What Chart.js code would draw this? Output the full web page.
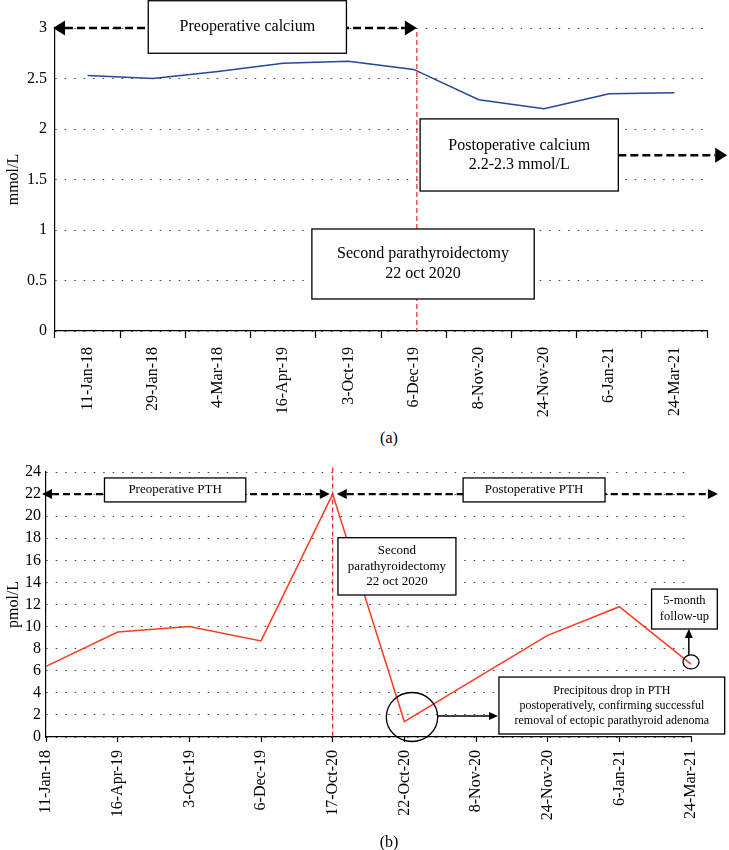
<!DOCTYPE html>
<html>
<head>
<meta charset="utf-8">
<script src="https://cdn.jsdelivr.net/npm/chart.js@4.4.1/dist/chart.umd.min.js"></script>
<style>
  body { margin: 0; background: #fff; width: 729px; height: 850px; position: relative; overflow: hidden; font-family: "Liberation Serif", serif; }
  canvas { position: absolute; left: 0; }
  #calciumChart { top: 0; }
  #pthChart { top: 445px; }
  .panel { position: absolute; left: 0; width: 778px; text-align: center; font-size: 16px; line-height: 18px; color: #000; }
</style>
</head>
<body>
<canvas id="calciumChart" width="729" height="420"></canvas>
<div class="panel" style="top:429px">(a)</div>
<canvas id="pthChart" width="729" height="390"></canvas>
<div class="panel" style="top:833px">(b)</div>
<script>
// serum calcium, mmol/L
const calciumDates = ['11-Jan-18', '29-Jan-18', '4-Mar-18', '16-Apr-19', '3-Oct-19', '6-Dec-19', '8-Nov-20', '24-Nov-20', '6-Jan-21', '24-Mar-21'];
const calciumValues = [2.53, 2.50, 2.57, 2.65, 2.67, 2.59, 2.29, 2.20, 2.35, 2.36];

// PTH, pmol/L
const pthDates = ['11-Jan-18', '16-Apr-19', '3-Oct-19', '6-Dec-19', '17-Oct-20', '22-Oct-20', '8-Nov-20', '24-Nov-20', '6-Jan-21', '24-Mar-21'];
const pthValues = [6.4, 9.5, 10.0, 8.7, 22.0, 1.4, 5.3, 9.2, 11.8, 6.6];

const serif = '"Liberation Serif", "Times New Roman", serif';
Chart.defaults.font.family = serif;
Chart.defaults.color = '#000';

function head(ctx, x, y, ang, len, half) {
    ctx.save();
    ctx.translate(x, y);
    ctx.rotate(ang);
    ctx.beginPath();
    ctx.moveTo(0, 0);
    ctx.lineTo(-len, -half);
    ctx.lineTo(-len, half);
    ctx.closePath();
    ctx.fill();
    ctx.restore();
}

// boxes, arrows and markers placed in data units so they follow the scales
function notesPlugin(items) {
    return {
        id: 'notes',
        afterDatasetsDraw(chart) {
            const ctx = chart.ctx;
            const px = v => chart.scales.x.getPixelForValue(v);
            const py = v => chart.scales.y.getPixelForValue(v);
            ctx.save();
            items.forEach(it => {
                ctx.setLineDash([]);
                ctx.strokeStyle = '#000';
                ctx.fillStyle = '#000';
                if (it.type === 'vline') {
                    ctx.strokeStyle = it.color;
                    ctx.lineWidth = it.width;
                    ctx.setLineDash(it.dash);
                    ctx.beginPath();
                    ctx.moveTo(px(it.x), py(it.y1));
                    ctx.lineTo(px(it.x), py(it.y2));
                    ctx.stroke();
                } else if (it.type === 'arrow') {
                    const x1 = px(it.x1), y1 = py(it.y1), x2 = px(it.x2), y2 = py(it.y2);
                    const ang = Math.atan2(y2 - y1, x2 - x1);
                    const dx = Math.cos(ang) * it.len, dy = Math.sin(ang) * it.len;
                    const both = it.heads === 'both';
                    ctx.lineWidth = it.width;
                    if (it.dash) ctx.setLineDash(it.dash);
                    ctx.beginPath();
                    ctx.moveTo(both ? x1 + dx : x1, both ? y1 + dy : y1);
                    ctx.lineTo(x2 - dx, y2 - dy);
                    ctx.stroke();
                    ctx.setLineDash([]);
                    head(ctx, x2, y2, ang, it.len, it.half);
                    if (both) head(ctx, x1, y1, ang + Math.PI, it.len, it.half);
                } else if (it.type === 'box') {
                    const x1 = px(it.x1), y1 = py(it.y1), x2 = px(it.x2), y2 = py(it.y2);
                    ctx.fillStyle = '#fff';
                    ctx.fillRect(x1, y1, x2 - x1, y2 - y1);
                    ctx.lineWidth = 1.3;
                    ctx.strokeRect(x1, y1, x2 - x1, y2 - y1);
                    ctx.fillStyle = '#000';
                    ctx.font = it.size + 'px ' + serif;
                    ctx.textAlign = 'center';
                    ctx.textBaseline = 'middle';
                    const cx = (x1 + x2) / 2, cy = (y1 + y2) / 2;
                    const n = it.lines.length;
                    it.lines.forEach((t, i) => {
                        ctx.fillText(t, cx, cy + (i - (n - 1) / 2) * it.gap);
                    });
                } else if (it.type === 'ellipse') {
                    ctx.lineWidth = 1.3;
                    ctx.beginPath();
                    ctx.ellipse(px(it.x), py(it.y), it.rx, it.ry, 0, 0, Math.PI * 2);
                    ctx.stroke();
                }
            });
            ctx.restore();
        }
    };
}

const calciumNotes = [
    { type: 'vline', x: 5.05, y1: 2.96, y2: 0, color: '#e8262a', dash: [5, 3], width: 1.2 },
    { type: 'arrow', x1: -0.53, y1: 3, x2: 5.05, y2: 3, heads: 'both', dash: [8, 4], width: 2.6, len: 12, half: 7.5 },
    { type: 'box', x1: 0.93, y1: 3.27, x2: 3.97, y2: 2.75, lines: ['Preoperative calcium'], size: 16, gap: 19 },
    { type: 'arrow', x1: 8.14, y1: 1.74, x2: 9.81, y2: 1.74, heads: 'end', dash: [8, 4], width: 2.6, len: 12, half: 7.5 },
    { type: 'box', x1: 5.1, y1: 2.1, x2: 8.14, y2: 1.386, lines: ['Postoperative calcium', '2.2-2.3 mmol/L'], size: 16, gap: 19 },
    { type: 'box', x1: 3.44, y1: 1.01, x2: 6.85, y2: 0.317, lines: ['Second parathyroidectomy', '22 oct 2020'], size: 16, gap: 20 }
];

const pthNotes = [
    { type: 'vline', x: 4, y1: 24.4, y2: 0, color: '#e8262a', dash: [5, 3], width: 1.2 },
    { type: 'arrow', x1: -0.056, y1: 22, x2: 3.96, y2: 22, heads: 'both', dash: [7, 4], width: 2.2, len: 10, half: 5 },
    { type: 'box', x1: 0.816, y1: 23.46, x2: 2.788, y2: 21.29, lines: ['Preoperative PTH'], size: 13, gap: 15 },
    { type: 'arrow', x1: 4.057, y1: 22, x2: 9.376, y2: 22, heads: 'both', dash: [7, 4], width: 2.2, len: 10, half: 5 },
    { type: 'box', x1: 5.82, y1: 23.46, x2: 7.8, y2: 21.29, lines: ['Postoperative PTH'], size: 13, gap: 15 },
    { type: 'box', x1: 4.074, y1: 18.05, x2: 5.72, y2: 12.86, lines: ['Second', 'parathyroidectomy', '22 oct 2020'], size: 13, gap: 15.5 },
    { type: 'ellipse', x: 5.107, y: 1.81, rx: 25.7, ry: 24.5 },
    { type: 'arrow', x1: 5.463, y1: 1.9, x2: 6.307, y2: 1.9, heads: 'end', width: 1.5, len: 9, half: 4 },
    { type: 'box', x1: 6.32, y1: 5.43, x2: 9.47, y2: 0.27, lines: ['Precipitous drop in PTH', 'postoperatively, confirming successful', 'removal of ectopic parathyroid adenoma'], size: 12, gap: 15 },
    { type: 'ellipse', x: 9, y: 6.8, rx: 8, ry: 7 },
    { type: 'arrow', x1: 8.97, y1: 7.43, x2: 8.97, y2: 9.78, heads: 'end', width: 1.5, len: 9, half: 4 },
    { type: 'box', x1: 8.45, y1: 13.4, x2: 9.367, y2: 9.78, lines: ['5-month', 'follow-up'], size: 12.5, gap: 16 }
];

function makeChart(id, labels, values, color, yMax, step, yTitle, opts) {
    return new Chart(document.getElementById(id), {
        type: 'line',
        data: {
            labels: labels,
            datasets: [{
                data: values,
                borderColor: color,
                borderWidth: 1.5,
                pointRadius: 0,
                tension: 0,
                fill: false
            }]
        },
        options: {
            responsive: false,
            animation: false,
            layout: { padding: opts.padding },
            plugins: { legend: { display: false }, tooltip: { enabled: false } },
            scales: {
                x: {
                    offset: opts.offset,
                    grid: { offset: opts.offset, drawOnChartArea: false, drawTicks: true, tickLength: opts.tickLength, tickColor: '#000', tickWidth: 1.2 },
                    border: { color: '#000', width: 1.2 },
                    ticks: { autoSkip: false, maxRotation: 90, minRotation: 90, padding: opts.xPad, font: { size: 16 }, color: '#000' },
                    afterFit: s => { s.height = opts.xHeight; }
                },
                y: {
                    min: 0,
                    max: yMax,
                    grid: { color: '#444', lineWidth: 1, drawTicks: false },
                    border: { color: '#000', width: 1.2, dash: [1.5, 8] },
                    ticks: {
                        stepSize: step,
                        autoSkip: false,
                        maxTicksLimit: 20,
                        padding: opts.yPad,
                        font: { size: 16 },
                        color: '#000',
                        callback: v => String(v)
                    },
                    title: { display: true, text: yTitle, font: { size: 16 }, color: '#000' },
                    afterFit: s => { s.width = opts.yWidth; }
                }
            }
        },
        plugins: [notesPlugin(opts.notes)]
    });
}

makeChart('calciumChart', calciumDates, calciumValues, '#23479b', 3, 0.5, 'mmol/L', {
    padding: { top: 28, right: 22, left: 0, bottom: 0 },
    offset: true, tickLength: 7, xPad: 9, xHeight: 89, yPad: 8, yWidth: 55,
    notes: calciumNotes
});

makeChart('pthChart', pthDates, pthValues, '#ff3b1f', 24, 2, 'pmol/L', {
    padding: { top: 27, right: 38, left: 0, bottom: 0 },
    offset: false, tickLength: 5, xPad: 8, xHeight: 98, yPad: 5, yWidth: 46,
    notes: pthNotes
});
</script>
</body>
</html>
